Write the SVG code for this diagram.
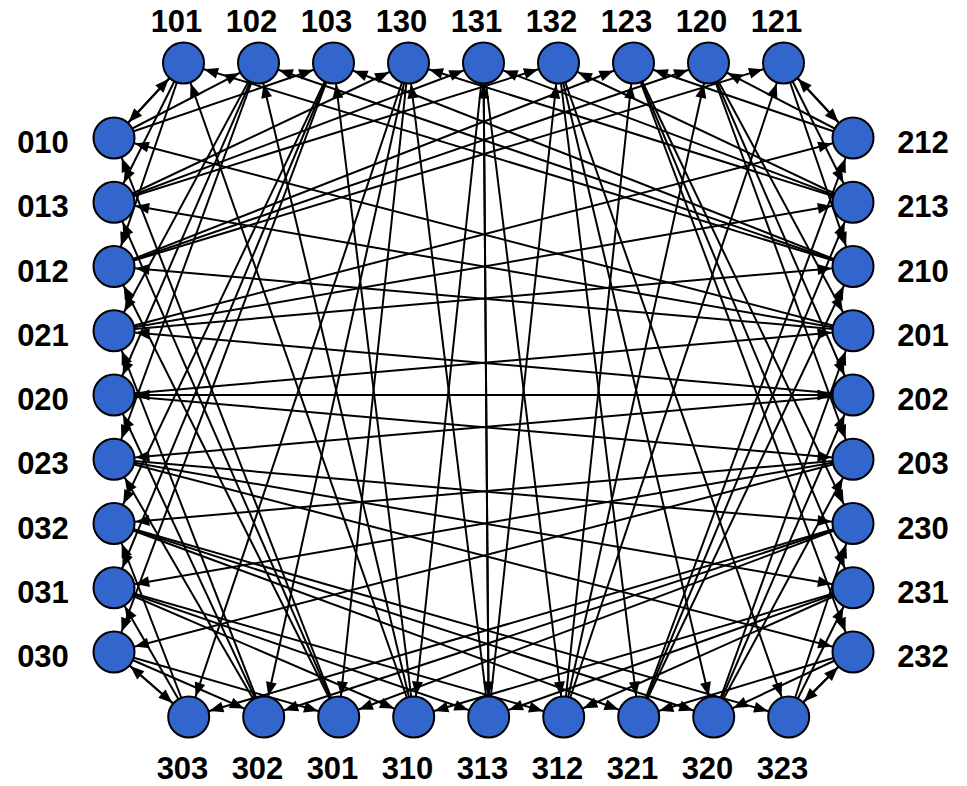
<svg xmlns="http://www.w3.org/2000/svg" width="967" height="786" viewBox="0 0 967 786">
<style>
.e{stroke:#000;stroke-width:2;fill:none;marker-end:url(#arr)}
.n circle{fill:#3366CC;stroke:#000;stroke-width:2}
.n text{font-family:"Liberation Sans",Arial,sans-serif;font-weight:bold;font-size:31px;fill:#000;text-anchor:middle}
</style>
<defs>
<marker id="arr" markerUnits="userSpaceOnUse" markerWidth="14" markerHeight="11" refX="35.5" refY="5.5" orient="auto" overflow="visible">
<path d="M0,0 L14,5.5 L0,11 z" fill="#000"/>
</marker>
</defs>
<rect width="967" height="786" fill="#fff"/>
<g id="edges">
<line class="e" x1="183.5" y1="63" x2="114" y2="138"/>
<line class="e" x1="183.5" y1="63" x2="114" y2="266.5"/>
<line class="e" x1="183.5" y1="63" x2="114" y2="202.25"/>
<line class="e" x1="258.5" y1="63" x2="114" y2="395"/>
<line class="e" x1="258.5" y1="63" x2="114" y2="330.75"/>
<line class="e" x1="258.5" y1="63" x2="114" y2="459.25"/>
<line class="e" x1="333.5" y1="63" x2="114" y2="652"/>
<line class="e" x1="333.5" y1="63" x2="114" y2="587.75"/>
<line class="e" x1="333.5" y1="63" x2="114" y2="523.5"/>
<line class="e" x1="408.5" y1="63" x2="338.7" y2="717"/>
<line class="e" x1="408.5" y1="63" x2="263.7" y2="717"/>
<line class="e" x1="408.5" y1="63" x2="188.7" y2="717"/>
<line class="e" x1="483.5" y1="63" x2="413.7" y2="717"/>
<line class="e" x1="483.5" y1="63" x2="563.7" y2="717"/>
<line class="e" x1="483.5" y1="63" x2="488.7" y2="717"/>
<line class="e" x1="558.5" y1="63" x2="713.7" y2="717"/>
<line class="e" x1="558.5" y1="63" x2="638.7" y2="717"/>
<line class="e" x1="558.5" y1="63" x2="788.7" y2="717"/>
<line class="e" x1="633.5" y1="63" x2="853" y2="523.5"/>
<line class="e" x1="633.5" y1="63" x2="853" y2="587.75"/>
<line class="e" x1="633.5" y1="63" x2="853" y2="652"/>
<line class="e" x1="708.5" y1="63" x2="853" y2="330.75"/>
<line class="e" x1="708.5" y1="63" x2="853" y2="395"/>
<line class="e" x1="708.5" y1="63" x2="853" y2="459.25"/>
<line class="e" x1="783.5" y1="63" x2="853" y2="266.5"/>
<line class="e" x1="783.5" y1="63" x2="853" y2="138"/>
<line class="e" x1="783.5" y1="63" x2="853" y2="202.25"/>
<line class="e" x1="114" y1="138" x2="183.5" y2="63"/>
<line class="e" x1="114" y1="138" x2="258.5" y2="63"/>
<line class="e" x1="114" y1="138" x2="333.5" y2="63"/>
<line class="e" x1="114" y1="202.25" x2="408.5" y2="63"/>
<line class="e" x1="114" y1="202.25" x2="483.5" y2="63"/>
<line class="e" x1="114" y1="202.25" x2="558.5" y2="63"/>
<line class="e" x1="114" y1="266.5" x2="708.5" y2="63"/>
<line class="e" x1="114" y1="266.5" x2="783.5" y2="63"/>
<line class="e" x1="114" y1="266.5" x2="633.5" y2="63"/>
<line class="e" x1="114" y1="330.75" x2="853" y2="266.5"/>
<line class="e" x1="114" y1="330.75" x2="853" y2="138"/>
<line class="e" x1="114" y1="330.75" x2="853" y2="202.25"/>
<line class="e" x1="114" y1="395" x2="853" y2="330.75"/>
<line class="e" x1="114" y1="395" x2="853" y2="395"/>
<line class="e" x1="114" y1="395" x2="853" y2="459.25"/>
<line class="e" x1="114" y1="459.25" x2="853" y2="523.5"/>
<line class="e" x1="114" y1="459.25" x2="853" y2="587.75"/>
<line class="e" x1="114" y1="459.25" x2="853" y2="652"/>
<line class="e" x1="114" y1="523.5" x2="713.7" y2="717"/>
<line class="e" x1="114" y1="523.5" x2="638.7" y2="717"/>
<line class="e" x1="114" y1="523.5" x2="788.7" y2="717"/>
<line class="e" x1="114" y1="587.75" x2="413.7" y2="717"/>
<line class="e" x1="114" y1="587.75" x2="563.7" y2="717"/>
<line class="e" x1="114" y1="587.75" x2="488.7" y2="717"/>
<line class="e" x1="114" y1="652" x2="338.7" y2="717"/>
<line class="e" x1="114" y1="652" x2="263.7" y2="717"/>
<line class="e" x1="114" y1="652" x2="188.7" y2="717"/>
<line class="e" x1="853" y1="138" x2="708.5" y2="63"/>
<line class="e" x1="853" y1="138" x2="783.5" y2="63"/>
<line class="e" x1="853" y1="138" x2="633.5" y2="63"/>
<line class="e" x1="853" y1="202.25" x2="408.5" y2="63"/>
<line class="e" x1="853" y1="202.25" x2="483.5" y2="63"/>
<line class="e" x1="853" y1="202.25" x2="558.5" y2="63"/>
<line class="e" x1="853" y1="266.5" x2="183.5" y2="63"/>
<line class="e" x1="853" y1="266.5" x2="258.5" y2="63"/>
<line class="e" x1="853" y1="266.5" x2="333.5" y2="63"/>
<line class="e" x1="853" y1="330.75" x2="114" y2="138"/>
<line class="e" x1="853" y1="330.75" x2="114" y2="266.5"/>
<line class="e" x1="853" y1="330.75" x2="114" y2="202.25"/>
<line class="e" x1="853" y1="395" x2="114" y2="395"/>
<line class="e" x1="853" y1="395" x2="114" y2="330.75"/>
<line class="e" x1="853" y1="395" x2="114" y2="459.25"/>
<line class="e" x1="853" y1="459.25" x2="114" y2="652"/>
<line class="e" x1="853" y1="459.25" x2="114" y2="587.75"/>
<line class="e" x1="853" y1="459.25" x2="114" y2="523.5"/>
<line class="e" x1="853" y1="523.5" x2="338.7" y2="717"/>
<line class="e" x1="853" y1="523.5" x2="263.7" y2="717"/>
<line class="e" x1="853" y1="523.5" x2="188.7" y2="717"/>
<line class="e" x1="853" y1="587.75" x2="413.7" y2="717"/>
<line class="e" x1="853" y1="587.75" x2="563.7" y2="717"/>
<line class="e" x1="853" y1="587.75" x2="488.7" y2="717"/>
<line class="e" x1="853" y1="652" x2="713.7" y2="717"/>
<line class="e" x1="853" y1="652" x2="638.7" y2="717"/>
<line class="e" x1="853" y1="652" x2="788.7" y2="717"/>
<line class="e" x1="188.7" y1="717" x2="114" y2="652"/>
<line class="e" x1="188.7" y1="717" x2="114" y2="587.75"/>
<line class="e" x1="188.7" y1="717" x2="114" y2="523.5"/>
<line class="e" x1="263.7" y1="717" x2="114" y2="395"/>
<line class="e" x1="263.7" y1="717" x2="114" y2="330.75"/>
<line class="e" x1="263.7" y1="717" x2="114" y2="459.25"/>
<line class="e" x1="338.7" y1="717" x2="114" y2="138"/>
<line class="e" x1="338.7" y1="717" x2="114" y2="266.5"/>
<line class="e" x1="338.7" y1="717" x2="114" y2="202.25"/>
<line class="e" x1="413.7" y1="717" x2="183.5" y2="63"/>
<line class="e" x1="413.7" y1="717" x2="258.5" y2="63"/>
<line class="e" x1="413.7" y1="717" x2="333.5" y2="63"/>
<line class="e" x1="488.7" y1="717" x2="408.5" y2="63"/>
<line class="e" x1="488.7" y1="717" x2="483.5" y2="63"/>
<line class="e" x1="488.7" y1="717" x2="558.5" y2="63"/>
<line class="e" x1="563.7" y1="717" x2="708.5" y2="63"/>
<line class="e" x1="563.7" y1="717" x2="783.5" y2="63"/>
<line class="e" x1="563.7" y1="717" x2="633.5" y2="63"/>
<line class="e" x1="638.7" y1="717" x2="853" y2="266.5"/>
<line class="e" x1="638.7" y1="717" x2="853" y2="138"/>
<line class="e" x1="638.7" y1="717" x2="853" y2="202.25"/>
<line class="e" x1="713.7" y1="717" x2="853" y2="330.75"/>
<line class="e" x1="713.7" y1="717" x2="853" y2="395"/>
<line class="e" x1="713.7" y1="717" x2="853" y2="459.25"/>
<line class="e" x1="788.7" y1="717" x2="853" y2="523.5"/>
<line class="e" x1="788.7" y1="717" x2="853" y2="587.75"/>
<line class="e" x1="788.7" y1="717" x2="853" y2="652"/>
</g>
<g id="n101" class="n"><circle cx="183.5" cy="63" r="20.5"/><text x="176.5" y="32">101</text></g>
<g id="n102" class="n"><circle cx="258.5" cy="63" r="20.5"/><text x="251.5" y="32">102</text></g>
<g id="n103" class="n"><circle cx="333.5" cy="63" r="20.5"/><text x="326.5" y="32">103</text></g>
<g id="n130" class="n"><circle cx="408.5" cy="63" r="20.5"/><text x="401.5" y="32">130</text></g>
<g id="n131" class="n"><circle cx="483.5" cy="63" r="20.5"/><text x="476.5" y="32">131</text></g>
<g id="n132" class="n"><circle cx="558.5" cy="63" r="20.5"/><text x="551.5" y="32">132</text></g>
<g id="n123" class="n"><circle cx="633.5" cy="63" r="20.5"/><text x="626.5" y="32">123</text></g>
<g id="n120" class="n"><circle cx="708.5" cy="63" r="20.5"/><text x="701.5" y="32">120</text></g>
<g id="n121" class="n"><circle cx="783.5" cy="63" r="20.5"/><text x="776.5" y="32">121</text></g>
<g id="n010" class="n"><circle cx="114" cy="138" r="20.5"/><text x="43" y="153">010</text></g>
<g id="n013" class="n"><circle cx="114" cy="202.25" r="20.5"/><text x="43" y="217.25">013</text></g>
<g id="n012" class="n"><circle cx="114" cy="266.5" r="20.5"/><text x="43" y="281.5">012</text></g>
<g id="n021" class="n"><circle cx="114" cy="330.75" r="20.5"/><text x="43" y="345.75">021</text></g>
<g id="n020" class="n"><circle cx="114" cy="395" r="20.5"/><text x="43" y="410">020</text></g>
<g id="n023" class="n"><circle cx="114" cy="459.25" r="20.5"/><text x="43" y="474.25">023</text></g>
<g id="n032" class="n"><circle cx="114" cy="523.5" r="20.5"/><text x="43" y="538.5">032</text></g>
<g id="n031" class="n"><circle cx="114" cy="587.75" r="20.5"/><text x="43" y="602.75">031</text></g>
<g id="n030" class="n"><circle cx="114" cy="652" r="20.5"/><text x="43" y="667">030</text></g>
<g id="n212" class="n"><circle cx="853" cy="138" r="20.5"/><text x="923" y="153">212</text></g>
<g id="n213" class="n"><circle cx="853" cy="202.25" r="20.5"/><text x="923" y="217.25">213</text></g>
<g id="n210" class="n"><circle cx="853" cy="266.5" r="20.5"/><text x="923" y="281.5">210</text></g>
<g id="n201" class="n"><circle cx="853" cy="330.75" r="20.5"/><text x="923" y="345.75">201</text></g>
<g id="n202" class="n"><circle cx="853" cy="395" r="20.5"/><text x="923" y="410">202</text></g>
<g id="n203" class="n"><circle cx="853" cy="459.25" r="20.5"/><text x="923" y="474.25">203</text></g>
<g id="n230" class="n"><circle cx="853" cy="523.5" r="20.5"/><text x="923" y="538.5">230</text></g>
<g id="n231" class="n"><circle cx="853" cy="587.75" r="20.5"/><text x="923" y="602.75">231</text></g>
<g id="n232" class="n"><circle cx="853" cy="652" r="20.5"/><text x="923" y="667">232</text></g>
<g id="n303" class="n"><circle cx="188.7" cy="717" r="20.5"/><text x="182.5" y="779">303</text></g>
<g id="n302" class="n"><circle cx="263.7" cy="717" r="20.5"/><text x="257.5" y="779">302</text></g>
<g id="n301" class="n"><circle cx="338.7" cy="717" r="20.5"/><text x="332.5" y="779">301</text></g>
<g id="n310" class="n"><circle cx="413.7" cy="717" r="20.5"/><text x="407.5" y="779">310</text></g>
<g id="n313" class="n"><circle cx="488.7" cy="717" r="20.5"/><text x="482.5" y="779">313</text></g>
<g id="n312" class="n"><circle cx="563.7" cy="717" r="20.5"/><text x="557.5" y="779">312</text></g>
<g id="n321" class="n"><circle cx="638.7" cy="717" r="20.5"/><text x="632.5" y="779">321</text></g>
<g id="n320" class="n"><circle cx="713.7" cy="717" r="20.5"/><text x="707.5" y="779">320</text></g>
<g id="n323" class="n"><circle cx="788.7" cy="717" r="20.5"/><text x="782.5" y="779">323</text></g>
</svg>
